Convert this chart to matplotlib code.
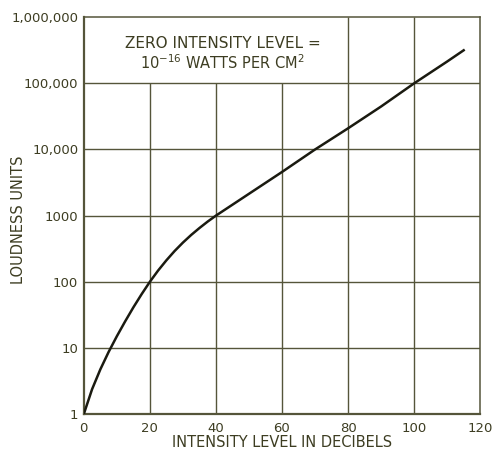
import numpy as np
import matplotlib
matplotlib.use("Agg")
import matplotlib.pyplot as plt
from matplotlib.ticker import FixedLocator, FixedFormatter

plt.rcParams["font.family"] = ["DejaVu Sans"]
plt.rcParams["mathtext.fontset"] = "dejavusans"

# curve: intensity level (dB) vs loudness units
intensity_db = [0, 2.5, 5, 7.5, 10, 12.5, 15, 17.5, 20, 22.5, 25, 27.5, 30,
                32.5, 35, 37.5, 40, 45, 50, 55, 60, 65, 70, 75, 80,
                85, 90, 95, 100, 105, 110, 115]
loudness = [1, 2.37, 4.73, 8.66, 15.0, 25.1, 41.0, 64.9, 100, 148, 211, 292,
            391, 510, 649, 813, 1000, 1462, 2138, 3126, 4571, 6761, 10000,
            14454, 20893, 30549, 44668, 66834, 100000, 146218, 213796, 316228]

x_ticks = [0, 20, 40, 60, 80, 100, 120]
y_ticks = [1, 10, 100, 1000, 10000, 100000, 1000000]
y_tick_labels = ["1", "10", "100", "1000", "10,000", "100,000", "1,000,000"]

# the note box in the top-left corner has no grid lines inside it
note_box_right = 60
note_box_bottom = 100000

ink = "#3d3d22"
grid_ink = "#55553a"

fig = plt.figure(figsize=(4.93, 4.53), dpi=100)
ax = fig.add_axes([0.170, 0.086, 0.804, 0.876])

ax.set_yscale("log")
ax.set_xlim(0, 120)
ax.set_ylim(1, 1000000)

ax.xaxis.set_major_locator(FixedLocator(x_ticks))
ax.yaxis.set_major_locator(FixedLocator(y_ticks))
ax.yaxis.set_major_formatter(FixedFormatter(y_tick_labels))
ax.yaxis.set_minor_locator(FixedLocator([]))
ax.tick_params(length=0, labelsize=9.5, colors=ink)
ax.tick_params(axis="x", pad=6)
ax.tick_params(axis="y", pad=4)

# grid drawn by hand so the note box stays clear
for xv in x_ticks[1:-1]:
    top = note_box_bottom if xv <= note_box_right else y_ticks[-1]
    ax.vlines(xv, y_ticks[0], top, color=grid_ink, linewidth=1.0, zorder=1)
for yv in y_ticks[1:-1]:
    ax.hlines(yv, x_ticks[0], x_ticks[-1], color=grid_ink, linewidth=1.0, zorder=1)

for side in ax.spines.values():
    side.set_color(grid_ink)
    side.set_linewidth(1.1)
ax.spines["left"].set_linewidth(1.6)
ax.spines["bottom"].set_linewidth(1.6)

ax.plot(intensity_db, loudness, color="#1a1a10", linewidth=1.8, zorder=3)

ax.set_xlabel("INTENSITY LEVEL IN DECIBELS", fontsize=10.5, color=ink, labelpad=0)
ax.set_ylabel("LOUDNESS UNITS", fontsize=10.5, color=ink)
ax.yaxis.set_label_coords(-0.145, 0.49)

ax.text(0.35, 0.935, "ZERO INTENSITY LEVEL =", transform=ax.transAxes,
        ha="center", va="center", fontsize=11, color=ink)
ax.text(0.35, 0.885, r"10$^{-16}$ WATTS PER CM$^{2}$", transform=ax.transAxes,
        ha="center", va="center", fontsize=10.5, color=ink)

fig.savefig("out.png", dpi=100, facecolor="white")
